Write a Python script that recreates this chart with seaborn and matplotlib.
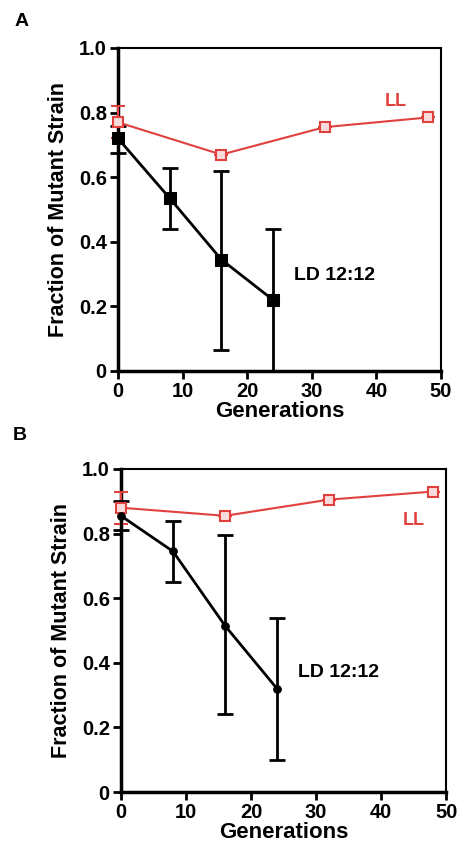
import matplotlib
matplotlib.use("Agg")
import matplotlib.pyplot as plt
import seaborn as sns
import pandas as pd

sns.set_theme(style="ticks")
plt.rcParams['font.family'] = ['Liberation Sans', 'DejaVu Sans']
plt.rcParams['font.weight'] = 'bold'
plt.rcParams['text.color'] = 'black'
plt.rcParams['axes.labelcolor'] = 'black'
plt.rcParams['xtick.color'] = 'black'
plt.rcParams['ytick.color'] = 'black'

RED = "#e0403e"

# Panel A
a_ld_gen = [0, 8, 16, 24]
a_ld_val = [0.72, 0.535, 0.345, 0.22]
a_ld_lo = [0.675, 0.44, 0.065, 0.0]
a_ld_hi = [0.76, 0.63, 0.62, 0.44]
a_ll_gen = [0, 16, 32, 48]
a_ll_val = [0.77, 0.67, 0.755, 0.785]
a_ll_lo = [0.72, 0.67, 0.755, 0.785]
a_ll_hi = [0.82, 0.67, 0.755, 0.785]

# Panel B
b_ld_gen = [0, 8, 16, 24]
b_ld_val = [0.855, 0.745, 0.515, 0.32]
b_ld_lo = [0.81, 0.65, 0.24, 0.10]
b_ld_hi = [0.90, 0.84, 0.795, 0.54]
b_ll_gen = [0, 16, 32, 48]
b_ll_val = [0.88, 0.855, 0.905, 0.93]
b_ll_lo = [0.83, 0.855, 0.905, 0.93]
b_ll_hi = [0.93, 0.855, 0.905, 0.93]

xticks = [0, 10, 20, 30, 40, 50]
yticks = [0, 0.2, 0.4, 0.6, 0.8, 1.0]
yticklabels = ["0", "0.2", "0.4", "0.6", "0.8", "1.0"]

fig = plt.figure(figsize=(4.58, 8.48), dpi=100)
axA = fig.add_axes([0.2576, 0.5625, 0.963 - 0.2576, 0.9434 - 0.5625])
axB = fig.add_axes([0.264, 0.066, 0.974 - 0.264, 0.447 - 0.066])


def draw(ax, ld_g, ld_v, ld_lo, ld_hi, ll_g, ll_v, ll_lo, ll_hi, ld_marker, ld_ms, ll_xy, ld_xy):
    ll_df = pd.DataFrame({"gen": ll_g, "val": ll_v})
    ld_df = pd.DataFrame({"gen": ld_g, "val": ld_v})
    ax.errorbar(ll_g, ll_v,
                yerr=[[v - l for v, l in zip(ll_v, ll_lo)], [h - v for v, h in zip(ll_v, ll_hi)]],
                fmt='none', ecolor=RED, elinewidth=1.5, capsize=5, capthick=1.5, zorder=2)
    ax.errorbar(ld_g, ld_v,
                yerr=[[v - l for v, l in zip(ld_v, ld_lo)], [h - v for v, h in zip(ld_v, ld_hi)]],
                fmt='none', ecolor='black', elinewidth=2, capsize=6, capthick=2, zorder=3)
    sns.lineplot(data=ll_df, x="gen", y="val", ax=ax, color=RED, lw=1.5,
                 marker="s", markersize=7, markerfacecolor="#f8dcdb",
                 markeredgecolor=RED, markeredgewidth=1.5, zorder=4)
    sns.lineplot(data=ld_df, x="gen", y="val", ax=ax, color="black", lw=2,
                 marker=ld_marker, markersize=ld_ms, markerfacecolor="black",
                 markeredgecolor="black", zorder=5)
    ax.text(ll_xy[0], ll_xy[1], "LL", color=RED, fontsize=13, fontweight='bold',
            ha='center', va='center')
    ax.text(ld_xy[0], ld_xy[1], "LD 12:12", color='black', fontsize=14, fontweight='bold',
            ha='center', va='center')
    ax.set_xlim(0, 50)
    ax.set_ylim(0, 1.0)
    ax.set_xticks(xticks)
    ax.set_yticks(yticks)
    ax.set_yticklabels(yticklabels)
    ax.set_xlabel("Generations", fontsize=16, fontweight='bold', labelpad=0)
    ax.set_ylabel("Fraction of Mutant Strain", fontsize=15.5, fontweight='bold', labelpad=7)
    ax.tick_params(axis='both', labelsize=14.5, width=2, length=6, direction='out', pad=2)
    for lab in ax.get_xticklabels() + ax.get_yticklabels():
        lab.set_fontweight('bold')
    ax.spines['left'].set_linewidth(2.5)
    ax.spines['bottom'].set_linewidth(2.5)
    ax.spines['top'].set_linewidth(1.5)
    ax.spines['right'].set_linewidth(1.5)
    for s in ax.spines.values():
        s.set_color('black')
        s.set_zorder(1)
    ax.set_facecolor('white')
    for child in ax.get_children():
        try:
            child.set_clip_on(False)
        except Exception:
            pass


draw(axA, a_ld_gen, a_ld_val, a_ld_lo, a_ld_hi, a_ll_gen, a_ll_val, a_ll_lo, a_ll_hi,
     "s", 9, (43, 0.835), (33.5, 0.295))
draw(axB, b_ld_gen, b_ld_val, b_ld_lo, b_ld_hi, b_ll_gen, b_ll_val, b_ll_lo, b_ll_hi,
     "o", 5.5, (45, 0.84), (33.5, 0.37))

fig.text(22 / 458, 1 - 22 / 848, "A", fontsize=14, fontweight='bold', ha='center', va='center')
fig.text(20 / 458, 1 - 435 / 848, "B", fontsize=14, fontweight='bold', ha='center', va='center')

fig.savefig("out.png", dpi=100, facecolor='white')
